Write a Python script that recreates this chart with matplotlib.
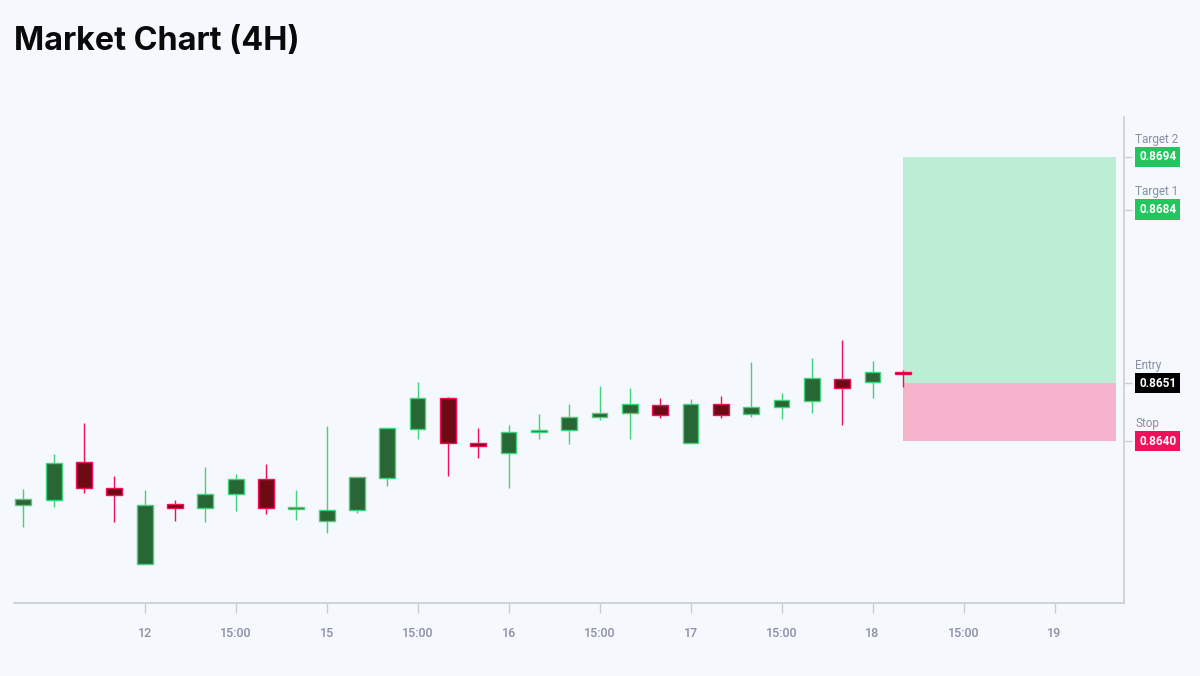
import matplotlib.pyplot as plt
import matplotlib.transforms as mtransforms

# candles, 4H
opens = [0.86279, 0.86287, 0.86360, 0.86311, 0.86167, 0.86280, 0.86273, 0.86300, 0.86328, 0.86270,
         0.86247, 0.86268, 0.86330, 0.86423, 0.86481, 0.86397, 0.86378, 0.86417, 0.86420, 0.86446,
         0.86454, 0.86468, 0.86397, 0.86471, 0.86451, 0.86464, 0.86476, 0.86518, 0.86512, 0.86532]
highs = [0.86308, 0.86375, 0.86435, 0.86333, 0.86306, 0.86288, 0.86351, 0.86338, 0.86357, 0.86306,
         0.86428, 0.86331, 0.86425, 0.86513, 0.86484, 0.86424, 0.86431, 0.86451, 0.86470, 0.86504,
         0.86500, 0.86482, 0.86479, 0.86486, 0.86550, 0.86491, 0.86557, 0.86592, 0.86552, 0.86535]
lows = [0.86237, 0.86274, 0.86301, 0.86246, 0.86167, 0.86248, 0.86246, 0.86267, 0.86262, 0.86250,
        0.86226, 0.86264, 0.86315, 0.86403, 0.86333, 0.86367, 0.86311, 0.86403, 0.86394, 0.86440,
        0.86403, 0.86443, 0.86397, 0.86444, 0.86446, 0.86442, 0.86454, 0.86431, 0.86482, 0.86502]
closes = [0.86289, 0.86359, 0.86311, 0.86298, 0.86279, 0.86273, 0.86300, 0.86328, 0.86272, 0.86275,
          0.86269, 0.86331, 0.86424, 0.86482, 0.86397, 0.86390, 0.86418, 0.86421, 0.86446, 0.86454,
          0.86470, 0.86449, 0.86470, 0.86449, 0.86464, 0.86478, 0.86519, 0.86500, 0.86532, 0.86528]

tick_pos = [4, 7, 10, 13, 16, 19, 22, 25, 28, 31, 34]
tick_labels = ["12", "15:00", "15", "15:00", "16", "15:00", "17", "15:00", "18", "15:00", "19"]

entry = 0.8651
stop = 0.8640
target1 = 0.8684
target2 = 0.8694
zone_x = [29, 36.04]

level_names = ["Target 2", "Target 1", "Entry", "Stop"]
level_values = [target2, target1, entry, stop]
level_colors = ["#22c55e", "#22c55e", "#000000", "#f0105a"]

bg = "#f5f8fc"
up_fill, up_edge = "#296636", "#3fd47c"
dn_fill, dn_edge = "#6e0a14", "#f0105a"
axis_col = "#c9cdd6"
text_col = "#8a8ea6"

plt.rcParams["font.family"] = ["Roboto", "DejaVu Sans"]

fig = plt.figure(figsize=(12, 6.76), dpi=100, facecolor=bg)
ax = fig.add_axes([14 / 1200, 1 - 603 / 676, 1110 / 1200, 486 / 676])
ax.set_facecolor(bg)

# risk / reward zone
ax.fill_between(zone_x, entry, target2, color="#bbeed5", lw=0, zorder=1)
ax.fill_between(zone_x, stop, entry, color="#f5b4cc", lw=0, zorder=1)

for i in range(len(opens)):
    o, h, l, c = opens[i], highs[i], lows[i], closes[i]
    up = c >= o
    fill = up_fill if up else dn_fill
    edge = up_edge if up else dn_edge
    ax.vlines(i, l, h, color=edge, lw=1.0, zorder=2)
    body = max(abs(c - o), 0.00002)
    ax.bar(i, body, bottom=min(o, c), width=0.52, color=fill, edgecolor=edge,
           linewidth=1.0, zorder=3)

ax.set_xlim(-0.307, 36.29)
ax.set_ylim(0.86092, 0.87016)

for s in ["top", "left"]:
    ax.spines[s].set_visible(False)
for s in ["bottom", "right"]:
    ax.spines[s].set_color(axis_col)
    ax.spines[s].set_linewidth(1.2)

ax.set_xticks(tick_pos)
ax.set_xticklabels(tick_labels)
ax.tick_params(axis="x", length=7.2, width=1, color=axis_col, labelcolor=text_col,
               labelsize=9, pad=10)
for t in ax.get_xticklabels():
    t.set_fontweight("medium")

ax.yaxis.tick_right()
ax.set_yticks(level_values)
ax.set_yticklabels([])
ax.tick_params(axis="y", length=5.8, width=1, color=axis_col)

trans = mtransforms.blended_transform_factory(ax.transAxes, ax.transData)
px = 1 / 1110
for name, val, col in zip(level_names, level_values, level_colors):
    ax.text(1 + 15 * px, val, f"{val:.4f}", transform=trans, ha="left", va="center",
            fontsize=8.5, fontweight="bold", color="white",
            bbox=dict(boxstyle="square,pad=0.32", fc=col, ec="none"), clip_on=False)
    ax.text(1 + 11 * px, val + 0.00034, name, transform=trans, ha="left", va="center",
            fontsize=8.5, color=text_col, clip_on=False)

fig.text(14 / 1200, 1 - 50 / 676, "Market Chart (4H)", fontsize=23.3, fontweight="bold",
         family=["Inter", "Roboto", "DejaVu Sans"], color="#0a0a0a", ha="left", va="baseline")

fig.savefig("out.png", dpi=100, facecolor=bg)
